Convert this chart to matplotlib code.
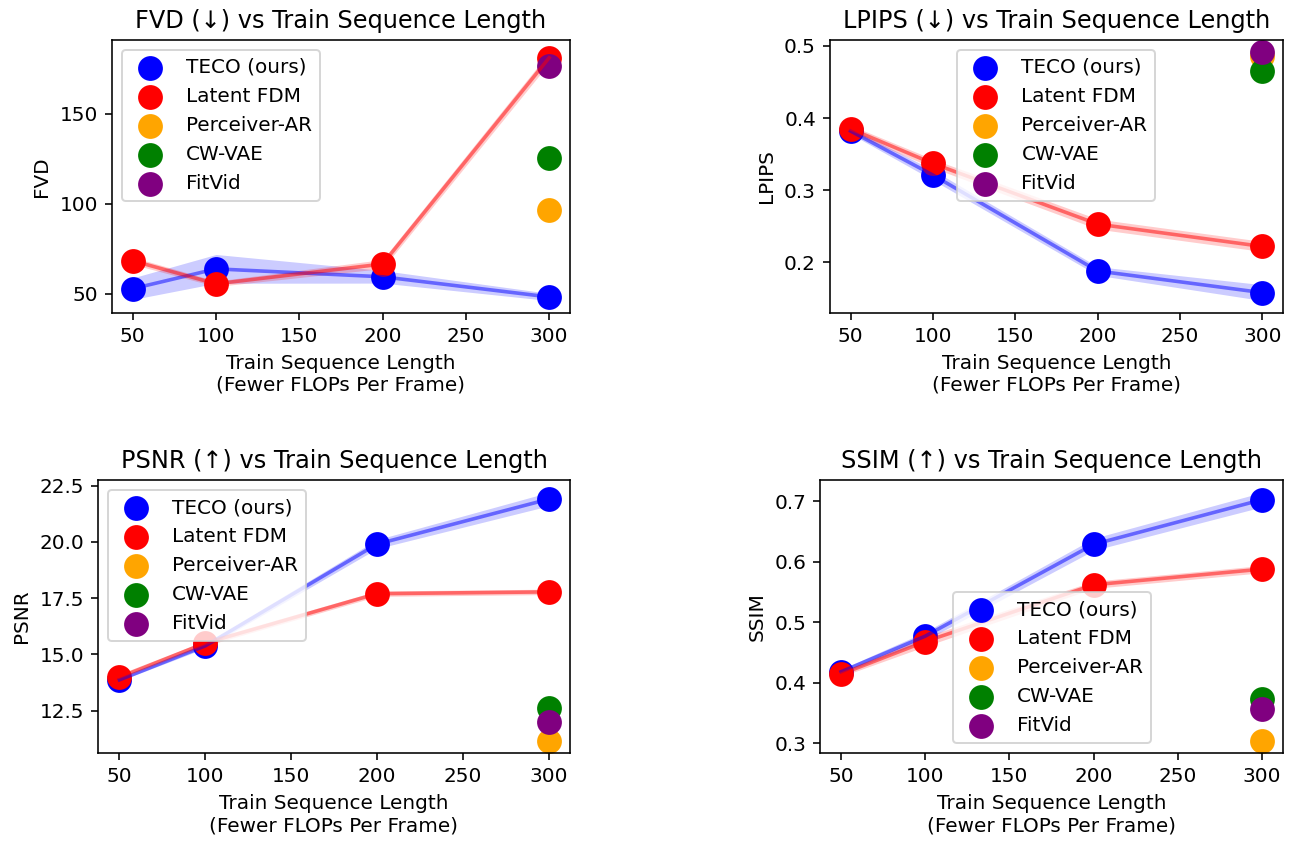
import matplotlib
matplotlib.use("Agg")
import matplotlib.pyplot as plt
import numpy as np

seq_len = [50, 100, 200, 300]
baseline_x = 300

methods = ["TECO (ours)", "Latent FDM", "Perceiver-AR", "CW-VAE", "FitVid"]
colors = ["blue", "red", "orange", "green", "purple"]

# FVD
fvd_teco = [52.8, 63.8, 59.4, 48.2]
fvd_teco_std = [6.0, 8.0, 3.5, 2.0]
fvd_fdm = [68.3, 55.5, 66.5, 181.0]
fvd_fdm_std = [2.0, 1.5, 2.5, 3.0]
fvd_base = [96.3, 125.2, 176.2]

# LPIPS
lpips_teco = [0.382, 0.321, 0.188, 0.158]
lpips_teco_std = [0.004, 0.007, 0.006, 0.011]
lpips_fdm = [0.385, 0.337, 0.253, 0.222]
lpips_fdm_std = [0.005, 0.006, 0.007, 0.007]
lpips_base = [0.486, 0.465, 0.491]

# PSNR
psnr_teco = [13.87, 15.38, 19.9, 21.9]
psnr_teco_std = [0.05, 0.1, 0.2, 0.3]
psnr_fdm = [14.0, 15.5, 17.7, 17.78]
psnr_fdm_std = [0.08, 0.12, 0.12, 0.12]
psnr_base = [11.17, 12.62, 12.0]

# SSIM
ssim_teco = [0.418, 0.477, 0.629, 0.703]
ssim_teco_std = [0.004, 0.007, 0.01, 0.012]
ssim_fdm = [0.414, 0.468, 0.562, 0.588]
ssim_fdm_std = [0.004, 0.008, 0.006, 0.006]
ssim_base = [0.304, 0.373, 0.356]

panels = [
    ("FVD (↓) vs Train Sequence Length", "FVD", fvd_teco, fvd_teco_std, fvd_fdm, fvd_fdm_std, fvd_base, "upper left",
     [0.0866, 0.6283, 0.3542, 0.3242]),
    ("LPIPS (↓) vs Train Sequence Length", "LPIPS", lpips_teco, lpips_teco_std, lpips_fdm, lpips_fdm_std, lpips_base, "upper center",
     [0.6419, 0.6283, 0.3503, 0.3242]),
    ("PSNR (↑) vs Train Sequence Length", "PSNR", psnr_teco, psnr_teco_std, psnr_fdm, psnr_fdm_std, psnr_base, "upper left",
     [0.0758, 0.1057, 0.3650, 0.3242]),
    ("SSIM (↑) vs Train Sequence Length", "SSIM", ssim_teco, ssim_teco_std, ssim_fdm, ssim_fdm_std, ssim_base, "lower center",
     [0.6342, 0.1057, 0.3581, 0.3242]),
]

fig = plt.figure(figsize=(1293 / 144, 842 / 144), dpi=144)

for title, ylabel, teco, teco_std, fdm, fdm_std, base, loc, rect in panels:
    ax = fig.add_axes(rect)
    x = np.array(seq_len)
    for i, (vals, std) in enumerate([(teco, teco_std), (fdm, fdm_std)]):
        vals = np.array(vals)
        std = np.array(std)
        ax.scatter(x, vals, s=130, color=colors[i], label=methods[i])
        ax.plot(x, vals, color=colors[i], alpha=0.5, linewidth=1.8)
        ax.fill_between(x, vals - std, vals + std, color=colors[i], alpha=0.2, linewidth=0)
    for j, v in enumerate(base):
        ax.scatter([baseline_x], [v], s=130, color=colors[j + 2], label=methods[j + 2])
    ax.set_title(title, fontsize=12)
    ax.set_ylabel(ylabel)
    ax.set_xlabel("Train Sequence Length\n(Fewer FLOPs Per Frame)")
    ax.legend(loc=loc)

fig.savefig("out.png", dpi=144)
